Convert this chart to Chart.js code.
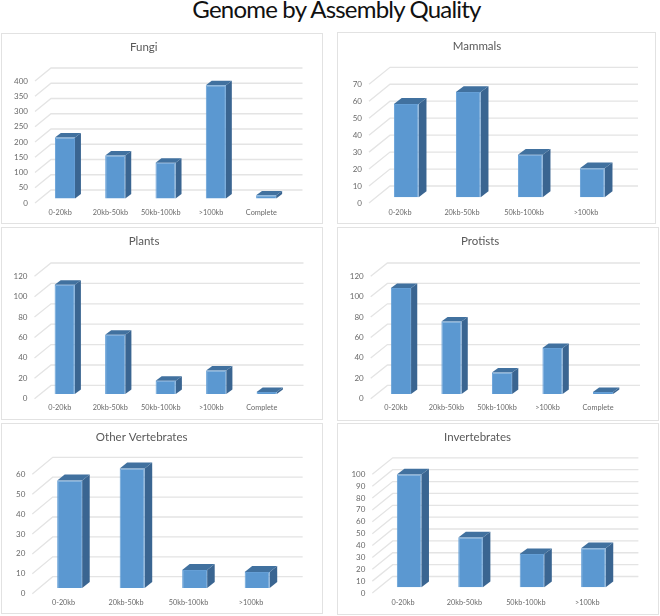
<!DOCTYPE html>
<html>
<head>
<meta charset="utf-8">
<script src="https://cdn.jsdelivr.net/npm/chart.js@4"></script>
<style>
html,body{margin:0;padding:0;background:#fff;width:660px;height:616px;overflow:hidden}
#title{position:absolute;left:0;top:-8px;width:673px;text-align:center;font:24px Lato,sans-serif;letter-spacing:-0.8px;color:#111;line-height:34px;white-space:nowrap}
.frame{position:absolute;box-sizing:border-box;border:1.5px solid #e2e2e2}
canvas{position:absolute;filter:blur(0.35px)}
</style>
</head>
<body>
<div id="title">Genome by Assembly Quality</div>
<script>
const categoriesFive = ['0-20kb','20kb-50kb','50kb-100kb','>100kb','Complete'];
const categoriesFour = ['0-20kb','20kb-50kb','50kb-100kb','>100kb'];

const fungi = [200,141,117,371,10];
const mammals = [55,62,25,17];
const plants = [107,58,13,23,2];
const protists = [104,71,21,45,2];
const otherVertebrates = [54,60,9,8];
const invertebrates = [95,42,28,33];

const fungiTicks = {max:400,step:50};
const mammalTicks = {max:70,step:10};
const plantTicks = {max:120,step:20};
const protistTicks = {max:120,step:20};
const vertebrateTicks = {max:60,step:10};
const invertebrateTicks = {max:100,step:10};

const panels = [
 {name:'Fungi',cats:categoriesFive,vals:fungi,t:fungiTicks,x:1,y:33,fw:322,h:191,l:35,r:286.5,top:81,zero:203,dx:16,dy:13},
 {name:'Mammals',cats:categoriesFour,vals:mammals,t:mammalTicks,x:337,y:32,fw:319,h:192,l:369,r:617,top:84.3,zero:203,dx:21,dy:17},
 {name:'Plants',cats:categoriesFive,vals:plants,t:plantTicks,x:1,y:227,fw:322,h:193,l:34.5,r:287,top:276.3,zero:398.7,dx:16.5,dy:13.3},
 {name:'Protists',cats:categoriesFive,vals:protists,t:protistTicks,x:337,y:227,fw:322,h:194,l:370.7,r:623.3,top:276.3,zero:398.7,dx:16.7,dy:13.3},
 {name:'Other Vertebrates',cats:categoriesFour,vals:otherVertebrates,t:vertebrateTicks,x:1,y:423,fw:322,h:191,l:32.3,r:282.3,top:474.3,zero:593.7,dx:20.4,dy:17},
 {name:'Invertebrates',cats:categoriesFour,vals:invertebrates,t:invertebrateTicks,x:337,y:423,fw:322,h:192,l:372.3,r:618,top:474.3,zero:593,dx:20.4,dy:16.5}
];

const FONT='Lato, sans-serif';
const threeD = {
  id:'threeD',
  beforeDatasetsDraw(chart,args,o){
    const {ctx,chartArea:a,scales:{y}}=chart;
    ctx.save();
    y.ticks.forEach(t=>{
      const py=y.getPixelForValue(t.value);
      ctx.beginPath();ctx.strokeStyle='#e4e4e4';ctx.lineWidth=1.3;
      ctx.moveTo(a.left,py);ctx.lineTo(a.left+o.dx,py-o.dy);ctx.lineTo(a.right+o.dx,py-o.dy);
      ctx.stroke();
    });
    ctx.restore();
    ctx.save();
    const fy=o.dy-1;
    ctx.translate(o.dx*0.3,-fy*0.3-1);
    const sx=o.dx*0.37, sy=fy*0.37;
    chart.getDatasetMeta(0).data.forEach(b=>{
      const p=b.getProps(['x','y','base','width'],true);
      const L=p.x-p.width/2,R=p.x+p.width/2;
      ctx.fillStyle='#3a6591';
      ctx.beginPath();ctx.moveTo(R,p.y);ctx.lineTo(R+sx,p.y-sy);ctx.lineTo(R+sx,p.base-sy);ctx.lineTo(R,p.base);ctx.closePath();ctx.fill();
      ctx.fillStyle='#41719f';
      ctx.beginPath();ctx.moveTo(L,p.y);ctx.lineTo(L+sx,p.y-sy);ctx.lineTo(R+sx,p.y-sy);ctx.lineTo(R,p.y);ctx.closePath();ctx.fill();
    });
  },
  afterDatasetsDraw(chart){chart.ctx.restore();}
};

panels.forEach(p=>{
  const f=document.createElement('div');
  f.className='frame';
  Object.assign(f.style,{left:p.x+'px',top:p.y+'px',width:p.fw+'px',height:p.h+'px'});
  document.body.appendChild(f);
  const c=document.createElement('canvas');
  const W=322;
  c.width=W;c.height=p.h;
  Object.assign(c.style,{left:p.x+'px',top:p.y+'px',width:W+'px',height:p.h+'px'});
  document.body.appendChild(c);
  new Chart(c,{
    type:'bar',
    data:{labels:p.cats,datasets:[{data:p.vals,backgroundColor:'#5b98d1',borderColor:'#659fd6',borderWidth:1,
      barPercentage:0.4,categoryPercentage:1,clip:false}]},
    options:{
      responsive:false,animation:false,events:[],
      layout:{padding:{left:0,top:0,right:p.x+W-p.r,bottom:0}},
      plugins:{
        legend:{display:false},tooltip:{enabled:false},
        title:{display:true,text:p.name,color:'#595959',font:{family:FONT,size:11.5,weight:'normal'},
          padding:{top:7,bottom:p.top-p.y-7-13.8}},
        threeD:{dx:p.dx,dy:p.dy}
      },
      scales:{
        y:{min:0,max:p.t.max,ticks:{stepSize:p.t.step,autoSkip:false,color:'#6a6a6a',font:{family:FONT,size:8},padding:7},
           grid:{display:false,drawTicks:false},border:{display:false},
           afterFit(s){s.width=p.l-p.x;}},
        x:{ticks:{color:'#6a6a6a',font:{family:FONT,size:7.3},padding:5,autoSkip:false,maxRotation:0},
           grid:{display:false,drawTicks:false},border:{display:false},
           afterFit(s){s.height=p.y+p.h-p.zero;}}
      }
    },
    plugins:[threeD]
  });
});
</script>
</body>
</html>
